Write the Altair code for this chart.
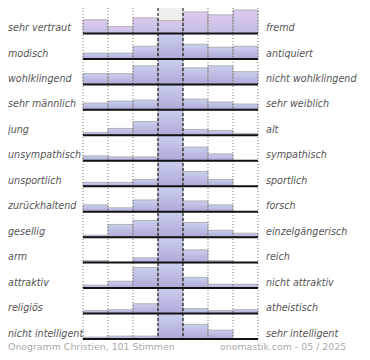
import altair as alt
import pandas as pd

left_labels = ["sehr vertraut", "modisch", "wohlklingend", "sehr männlich", "\u00a0jung",
               "unsympathisch", "unsportlich", "zurückhaltend", "gesellig", "arm",
               "attraktiv", "religiös", "nicht intelligent"]
right_labels = ["fremd", "antiquiert", "nicht wohlklingend", "sehr weiblich", "alt",
                "sympathisch", "sportlich", "forsch", "einzelgängerisch", "reich",
                "nicht attraktiv", "atheistisch", "sehr intelligent"]

# bar heights per row (7 answer columns), relative units, 26 = full row
values = [
    [14, 7, 16, 13, 22, 19, 24],
    [6, 6, 13, 26, 15, 12, 13],
    [11, 11, 19, 26, 17, 19, 13],
    [7, 9, 10, 26, 11, 8, 6],
    [3, 7, 14, 26, 6, 5, 2],
    [5, 4, 4, 26, 14, 7, 0],
    [4, 4, 7, 26, 15, 7, 0],
    [7, 4, 12, 26, 11, 7, 0],
    [2, 13, 17, 26, 15, 7, 4],
    [2, 0, 5, 26, 13, 2, 0],
    [3, 7, 21, 26, 11, 4, 4],
    [3, 4, 10, 26, 5, 3, 4],
    [2, 3, 3, 26, 15, 9, 0],
]
footer_left = "Onogramm Christien, 101 Stimmen"
footer_right = "onomastik.com - 05 / 2025"

R = 26
NROW = len(values)
LEFT = 75

bars = pd.DataFrame([
    {"row": r, "col": c, "v": v}
    for r, vals in enumerate(values) for c, v in enumerate(vals) if v > 0
])
rows = pd.DataFrame({"row": list(range(NROW)), "left": left_labels, "right": right_labels})

xs = alt.Scale(domain=[0, 7], nice=False, zero=False)
ys = alt.Scale(domain=[0, NROW * R], nice=False, zero=False, reverse=True)

def bar_layer(data, top, bottom):
    grad = alt.Gradient(gradient="linear", x1=0, x2=0, y1=0, y2=1,
                        stops=[alt.GradientStop(color=top, offset=0),
                               alt.GradientStop(color=bottom, offset=1)])
    return alt.Chart(data).transform_calculate(
        c0="datum.col", c1="datum.col + 1",
        ybase=f"(datum.row + 1) * {R}", ytop=f"(datum.row + 1) * {R} - datum.v"
    ).mark_rect(fill=grad, stroke="#9c9c9c", strokeWidth=0.7).encode(
        x=alt.X("c0:Q", scale=xs, axis=None), x2="c1:Q",
        y=alt.Y("ytop:Q", scale=ys, axis=None), y2="ybase:Q")

bars_first = bar_layer(bars[bars.row == 0], "#dccaec", "#c3bde5")
bars_rest = bar_layer(bars[bars.row > 0], "#c9cfee", "#b0a9d9")

mid = pd.DataFrame({"col": [3]})
bg = alt.Chart(mid).transform_calculate(
    c1="datum.col + 1", y0="0", y1=f"{NROW * R}"
).mark_rect(fill="#eeeeee").encode(
    x=alt.X("col:Q", scale=xs, axis=None), x2="c1:Q",
    y=alt.Y("y0:Q", scale=ys, axis=None), y2="y1:Q")

dotted = alt.Chart(pd.DataFrame({"b": [0, 1, 2, 5, 6, 7]})).transform_calculate(
    y0="0", y1=f"{NROW * R}"
).mark_rule(color="#777777", strokeDash=[1, 2], strokeWidth=1).encode(
    x=alt.X("b:Q", scale=xs, axis=None),
    y=alt.Y("y0:Q", scale=ys, axis=None), y2="y1:Q")

dashed = alt.Chart(pd.DataFrame({"b": [3, 4]})).transform_calculate(
    y0="0", y1=f"{NROW * R}"
).mark_rule(color="#000000", strokeDash=[3, 2], strokeWidth=1).encode(
    x=alt.X("b:Q", scale=xs, axis=None),
    y=alt.Y("y0:Q", scale=ys, axis=None), y2="y1:Q")

baselines = alt.Chart(rows).transform_calculate(
    x0="0", x1="7", yb=f"(datum.row + 1) * {R}"
).mark_rule(color="#111111", strokeWidth=2).encode(
    x=alt.X("x0:Q", scale=xs, axis=None), x2="x1:Q",
    y=alt.Y("yb:Q", scale=ys, axis=None))

lab_base = alt.Chart(rows).transform_calculate(
    yl=f"(datum.row + 1) * {R} - 5.5")
ltext = lab_base.mark_text(align="left", baseline="middle", font="DejaVu Sans",
                           fontStyle="italic", fontSize=9.6, color="#555555").encode(
    x=alt.value(-LEFT), y=alt.Y("yl:Q", scale=ys, axis=None), text="left:N")
rtext = lab_base.mark_text(align="left", baseline="middle", font="DejaVu Sans",
                           fontStyle="italic", fontSize=9.6, color="#555555").encode(
    x=alt.value(183), y=alt.Y("yl:Q", scale=ys, axis=None), text="right:N")

foot = pd.DataFrame({"t": [footer_left, footer_right], "side": ["l", "r"]})
fl = alt.Chart(foot[foot.side == "l"]).mark_text(
    align="left", baseline="middle", font="DejaVu Sans", fontSize=9.4, color="#aaaaaa"
).encode(x=alt.value(-LEFT), y=alt.value(339), text="t:N")
fr = alt.Chart(foot[foot.side == "r"]).mark_text(
    align="left", baseline="middle", font="DejaVu Sans", fontSize=9.4, color="#aaaaaa"
).encode(x=alt.value(137), y=alt.value(339), text="t:N")

chart = alt.layer(bg, bars_first, bars_rest, dotted, dashed, baselines, ltext, rtext, fl, fr).properties(
    width=175, height=331,
    autosize=alt.AutoSizeParams(type="none"),
    padding={"left": LEFT, "top": 0, "right": 104, "bottom": 13},
).configure_view(strokeWidth=0)

chart.save("out.html", embed_options={"renderer": "svg", "actions": False})
